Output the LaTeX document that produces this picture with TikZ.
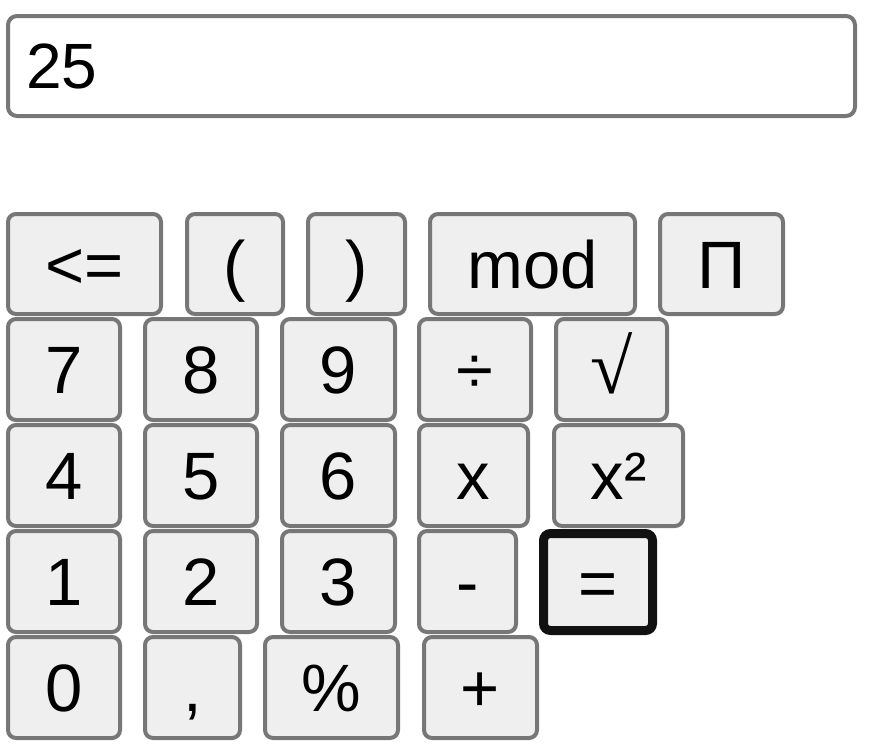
\documentclass[tikz,border=0pt]{standalone}
\usepackage{fontspec}
\setmainfont{Liberation Sans}
\newfontfamily\symserif{Liberation Serif}
\definecolor{keygray}{HTML}{777777}
\definecolor{keyfill}{HTML}{EFEFEF}
\definecolor{eqborder}{HTML}{111111}
\tikzset{
  key/.style={draw=keygray, line width=4pt, fill=keyfill, rounded corners=8pt,
    inner sep=0pt, text height=48pt, text depth=0pt,
    font=\fontsize{67}{80}\selectfont},
  eqkey/.style={key, draw=eqborder, line width=9pt, rounded corners=7pt},
  screen/.style={draw=keygray, line width=4pt, fill=white, rounded corners=9pt, inner sep=0pt},
  screentext/.style={inner sep=0pt, anchor=base west, font=\fontsize{64}{76}\selectfont}
}
\begin{document}
\begin{tikzpicture}[x=1pt,y=-1pt]
\useasboundingbox (0,0) rectangle (878,753);
% display
\node[screen, minimum width=847pt, minimum height=100pt] (display) at (431.5,66) {};
\node[screentext] (value) at (26,88) {25};
% row 1
\node[key, minimum width=153pt, minimum height=100pt] (back) at (84.5,264) {<=};
\node[key, minimum width=96pt, minimum height=100pt] (lpar) at (235,264) {(};
\node[key, minimum width=97pt, minimum height=100pt] (rpar) at (356.5,264) {)};
\node[key, minimum width=205pt, minimum height=100pt] (mod) at (532.5,264) {mod};
\node[key, minimum width=123pt, minimum height=100pt] (pi) at (721.5,264) {Π};
% row 2
\node[key, minimum width=112pt, minimum height=101pt] (k7) at (64,369.5) {7};
\node[key, minimum width=112pt, minimum height=101pt] (k8) at (201,369.5) {8};
\node[key, minimum width=113pt, minimum height=101pt] (k9) at (338.5,369.5) {9};
\node[key, minimum width=112pt, minimum height=101pt] (div) at (475,369.5) {÷};
\node[key, minimum width=111pt, minimum height=101pt, font={\symserif\fontsize{77}{90}\selectfont}] (sqrt) at (611.5,369.5) {√};
% row 3
\node[key, minimum width=112pt, minimum height=101pt] (k4) at (64,475.5) {4};
\node[key, minimum width=112pt, minimum height=101pt] (k5) at (201,475.5) {5};
\node[key, minimum width=113pt, minimum height=101pt] (k6) at (338.5,475.5) {6};
\node[key, minimum width=109pt, minimum height=101pt] (mul) at (473.5,475.5) {x};
\node[key, minimum width=129pt, minimum height=101pt] (sq) at (618.5,475.5) {x²};
% row 4
\node[key, minimum width=112pt, minimum height=101pt] (k1) at (64,581.5) {1};
\node[key, minimum width=112pt, minimum height=101pt] (k2) at (201,581.5) {2};
\node[key, minimum width=113pt, minimum height=101pt] (k3) at (338.5,581.5) {3};
\node[key, minimum width=97pt, minimum height=101pt] (minus) at (467.5,581.5) {-};
\node[eqkey, minimum width=109pt, minimum height=97pt] (eq) at (598,582) {=};
% row 5
\node[key, minimum width=112pt, minimum height=101pt] (k0) at (64,687.5) {0};
\node[key, minimum width=95pt, minimum height=101pt] (comma) at (192.5,687.5) {,};
\node[key, minimum width=133pt, minimum height=101pt] (pct) at (331.5,687.5) {\%};
\node[key, minimum width=113pt, minimum height=101pt] (plus) at (480.5,687.5) {+};
\end{tikzpicture}
\end{document}
